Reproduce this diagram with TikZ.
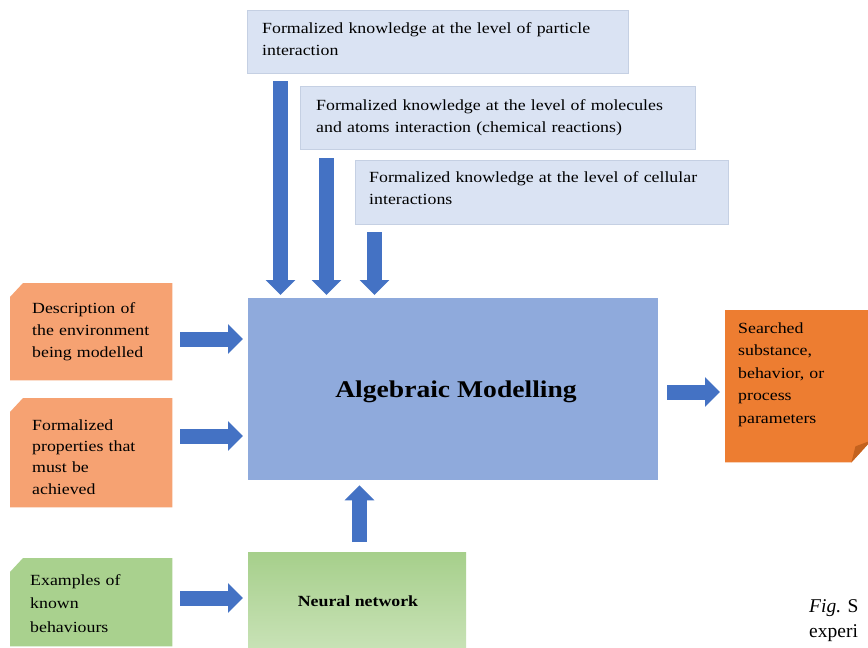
\documentclass[tikz,border=0pt]{standalone}
\usepackage{fontspec}
\setmainfont{Liberation Serif}
\newfontfamily\df[FakeStretch=1.15]{Liberation Serif}
\usetikzlibrary{arrows.meta,shapes.misc}
\definecolor{kbox}{HTML}{DAE3F3}
\definecolor{kborder}{HTML}{C5D0E3}
\definecolor{mainblue}{HTML}{8FAADC}
\definecolor{arrowblue}{HTML}{4472C4}
\definecolor{orangeL}{HTML}{F6A272}
\definecolor{orangeD}{HTML}{ED7D31}
\definecolor{foldD}{HTML}{C4621E}
\definecolor{greenL}{HTML}{A9D18E}
\definecolor{greenT}{HTML}{A6CF8B}
\definecolor{greenB}{HTML}{C8E2B6}
\tikzset{
  kbx/.style={fill=kbox, draw=kborder, line width=0.8pt, anchor=north west, inner sep=0pt},
  plainbox/.style={anchor=north west, inner sep=0pt},
  txt/.style={anchor=base west, inner sep=0pt, align=left, text width=#1, font=\df\fontsize{15.5}{22}\selectfont},
  txt/.default=400pt,
  barrow/.style={draw=arrowblue, line width=15pt, line cap=butt, -{Triangle[width=29pt,length=15pt]}},
}
\begin{document}
\begin{tikzpicture}[x=1pt,y=-1pt]
\useasboundingbox (0,0) rectangle (868,648);
\clip (0,0) rectangle (868,648);
\fill[white] (0,0) rectangle (868,648);

% top knowledge boxes
\node[kbx, minimum width=381pt, minimum height=63pt] (b1) at (247,10) {};
\node[kbx, minimum width=395pt, minimum height=63pt] (b2) at (300,86) {};
\node[kbx, minimum width=373pt, minimum height=64pt] (b3) at (355,160) {};
\node[txt] (t1) at (262,33) {Formalized knowledge at the level of particle\\interaction};
\node[txt] (t2) at (316,110) {Formalized knowledge at the level of molecules\\and atoms interaction (chemical reactions)};
\node[txt] (t3) at (369,182) {Formalized knowledge at the level of cellular\\interactions};

% main box
\node[plainbox, fill=mainblue, minimum width=410pt, minimum height=182pt] (main) at (248,298) {};
\node[font=\df\bfseries\fontsize{24}{28}\selectfont, inner sep=0pt, anchor=base] (mt) at (456,397) {Algebraic Modelling};

% left orange boxes (chamfered corner)
\node[plainbox, minimum width=162pt, minimum height=97pt] (A) at (10,283) {};
\fill[orangeL] ([xshift=13pt]A.north west) -- (A.north east) -- (A.south east) -- (A.south west) -- ([yshift=-14pt]A.north west) -- cycle;
\node[txt] (tA) at (32,313) {Description of\\the environment\\being modelled};

\node[plainbox, minimum width=162pt, minimum height=109pt] (B) at (10,398) {};
\fill[orangeL] ([xshift=13pt]B.north west) -- (B.north east) -- (B.south east) -- (B.south west) -- ([yshift=-14pt]B.north west) -- cycle;
\node[txt, font=\df\fontsize{15.5}{21.4}\selectfont] (tB) at (32,430) {Formalized\\properties that\\must be\\achieved};

% left green box
\node[plainbox, minimum width=162pt, minimum height=88pt] (G) at (10,558) {};
\fill[greenL] ([xshift=13pt]G.north west) -- (G.north east) -- (G.south east) -- (G.south west) -- ([yshift=-14pt]G.north west) -- cycle;
\node[txt, font=\df\fontsize{15.5}{23.5}\selectfont] (tG) at (30,585) {Examples of\\known\\behaviours};

% neural network
\node[plainbox, top color=greenT, bottom color=greenB, minimum width=218pt, minimum height=96pt] (nn) at (248,552) {};
\node[font=\df\bfseries\fontsize{15.5}{20}\selectfont, inner sep=0pt, anchor=base] (nt) at (358,606) {Neural network};

% right orange box with folded corner
\node[plainbox, minimum width=146pt, minimum height=152pt] (r) at (725,310) {};
\fill[orangeD] (r.north west) -- (r.north east) -- ([yshift=22pt]r.south east) -- ([xshift=-20pt]r.south east) -- (r.south west) -- cycle;
\fill[foldD] ([xshift=-20pt]r.south east) -- ([yshift=22pt]r.south east) -- ([xshift=-16pt,yshift=16pt]r.south east) -- cycle;
\node[txt, font=\df\fontsize{15.5}{22.5}\selectfont] (tR) at (738,333) {Searched\\substance,\\behavior, or\\process\\parameters};

% arrows
\coordinate (d1) at (280.5,81);
\coordinate (d2) at (326.5,158);
\coordinate (d3) at (374.5,232);
\draw[barrow, shorten >=3pt] (d1) -- (d1 |- main.north);
\draw[barrow, shorten >=3pt] (d2) -- (d2 |- main.north);
\draw[barrow, shorten >=3pt] (d3) -- (d3 |- main.north);

\coordinate (la) at (180,339);
\coordinate (lb) at (180,436);
\coordinate (lg) at (180,598);
\draw[barrow, shorten >=5pt] (la) -- (la -| main.west);
\draw[barrow, shorten >=5pt] (lb) -- (lb -| main.west);
\draw[barrow, shorten >=5pt] (lg) -- (lg -| nn.west);

\coordinate (up) at (359.5,542);
\draw[barrow, shorten >=5pt] (up) -- (up |- main.south);

\coordinate (ro) at (667,392);
\draw[barrow, shorten >=5pt] (ro) -- (ro -| r.west);

% caption fragment
\node[anchor=base west, inner sep=0pt, font=\fontsize{19.5}{25}\selectfont] (cap1) at (809,612) {\textit{Fig.} S};
\node[anchor=base west, inner sep=0pt, font=\fontsize{19.5}{25}\selectfont] (cap2) at (809,637) {experi};
\end{tikzpicture}
\end{document}
